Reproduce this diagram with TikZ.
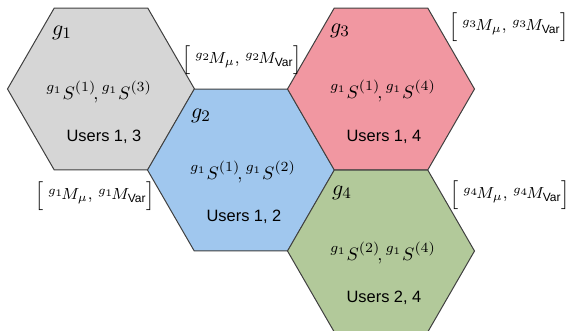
\documentclass[tikz,border=0pt]{standalone}
\usepackage{amsmath}
\usepackage{fontspec}
\setsansfont{Liberation Sans}
\usetikzlibrary{shapes.geometric,positioning}

\definecolor{cellgray}{RGB}{214,214,214}
\definecolor{cellblue}{RGB}{160,199,238}
\definecolor{cellpink}{RGB}{241,151,161}
\definecolor{cellgreen}{RGB}{178,201,154}

\newcommand{\mpair}[1]{$\Bigl[\;{}^{g_{#1}}\!M_{\mu},\,{}^{g_{#1}}\!M_{\textsf{Var}}\Bigr]$}

\begin{document}
\begin{tikzpicture}[x=0.5pt, y=0.5pt,
    hexcell/.style = {regular polygon, regular polygon sides=6, minimum size=93.5pt,
                      inner sep=0pt, draw=black!75, line width=0.5pt},
    glabel/.style  = {font=\fontsize{11}{12}\selectfont},
    seeds/.style   = {font=\fontsize{9.5}{10}\selectfont},
    users/.style   = {font=\sffamily\fontsize{8.2}{9}\selectfont},
    mlabel/.style  = {font=\fontsize{8}{9}\selectfont, inner sep=0pt}]
    \useasboundingbox (0, 0) rectangle (568, 331);

    % the four cells
    \node [hexcell, fill=cellgray]  (h1) at (101, 242) {};
    \node [hexcell, fill=cellblue]  (h2) at (241, 161) {};
    \node [hexcell, fill=cellpink]  (h3) at (381, 242) {};
    \node [hexcell, fill=cellgreen] (h4) at (381, 80) {};

    % cell names
    \node [glabel] (g1) at ([shift={(-39, 56)}]h1.center) {$g_1$};
    \node [glabel] (g2) at ([shift={(-40, 54)}]h2.center) {$g_2$};
    \node [glabel] (g3) at ([shift={(-41, 58)}]h3.center) {$g_3$};
    \node [glabel] (g4) at ([shift={(-39, 58)}]h4.center) {$g_4$};

    % seeds
    \node [seeds] (s1) at ([shift={(-2, -3)}]h1.center) {${}^{g_1}S^{(1)}\!,{}^{g_1}S^{(3)}$};
    \node [seeds] (s2) at ([shift={(2, -2)}]h2.center)  {${}^{g_1}S^{(1)}\!,{}^{g_1}S^{(2)}$};
    \node [seeds] (s3) at ([shift={(2, -2)}]h3.center)  {${}^{g_1}S^{(1)}\!,{}^{g_1}S^{(4)}$};
    \node [seeds] (s4) at ([shift={(2, -2)}]h4.center)  {${}^{g_1}S^{(2)}\!,{}^{g_1}S^{(4)}$};

    % users
    \node [users] (u1) at ([shift={(3, -48)}]h1.center) {Users 1, 3};
    \node [users] (u2) at ([shift={(3, -47)}]h2.center) {Users 1, 2};
    \node [users] (u3) at ([shift={(3, -48)}]h3.center) {Users 1, 4};
    \node [users] (u4) at ([shift={(3, -47)}]h4.center) {Users 2, 4};

    % model pairs
    \node [mlabel] (m1) at (95, 135)  {\mpair{1}};
    \node [mlabel] (m2) at (242, 271) {\mpair{2}};
    \node [mlabel] (m3) at (509, 304) {\mpair{3}};
    \node [mlabel] (m4) at (510, 136) {\mpair{4}};
\end{tikzpicture}
\end{document}
